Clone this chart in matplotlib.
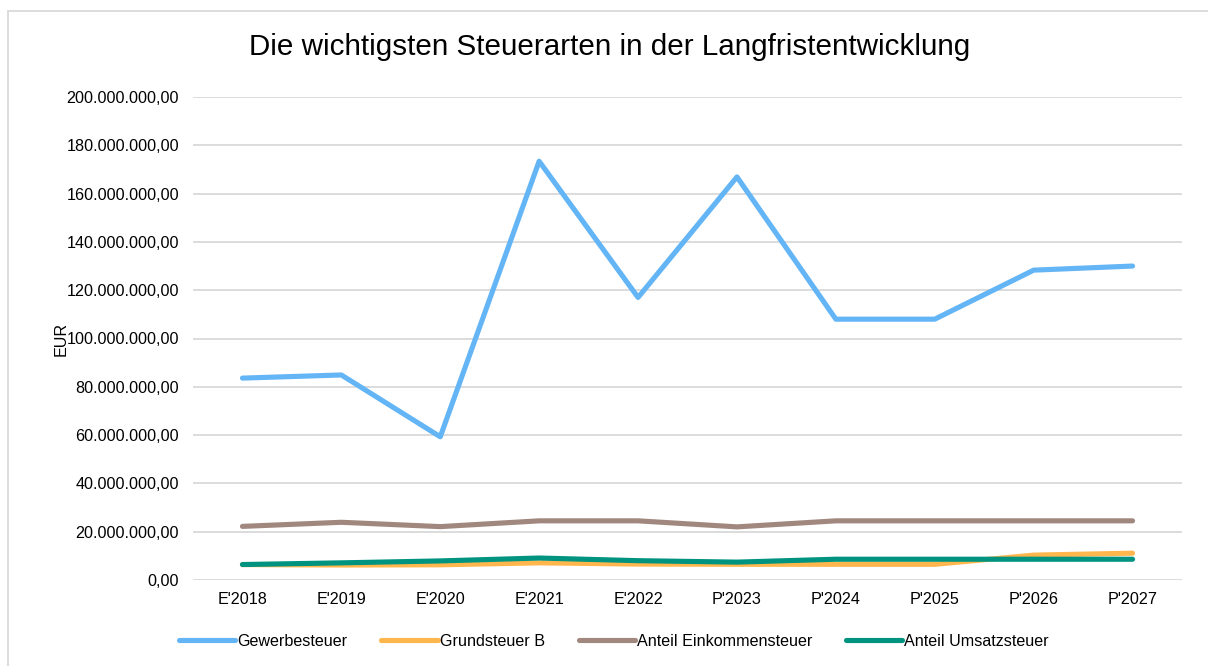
import matplotlib
matplotlib.use("Agg")
import matplotlib.pyplot as plt
from matplotlib.ticker import FuncFormatter
from matplotlib.patches import Rectangle

plt.rcParams['font.family'] = ['Liberation Sans', 'DejaVu Sans']

# data (EUR)
years = ["E'2018", "E'2019", "E'2020", "E'2021", "E'2022",
         "P'2023", "P'2024", "P'2025", "P'2026", "P'2027"]
gewerbe = [83.6e6, 84.9e6, 59.3e6, 173.4e6, 117.0e6,
           166.9e6, 108.0e6, 108.0e6, 128.3e6, 130.0e6]
grund_b = [6.4e6, 6.2e6, 6.3e6, 7.1e6, 6.6e6,
           6.5e6, 6.5e6, 6.5e6, 10.3e6, 11.1e6]
einkommen = [22.2e6, 23.9e6, 22.1e6, 24.5e6, 24.5e6,
             22.0e6, 24.5e6, 24.5e6, 24.5e6, 24.5e6]
umsatz = [6.4e6, 7.1e6, 7.9e6, 9.1e6, 8.0e6,
          7.4e6, 8.6e6, 8.6e6, 8.6e6, 8.6e6]

series = [
    ("Gewerbesteuer", gewerbe, "#64B5F6"),
    ("Grundsteuer B", grund_b, "#FFB74D"),
    ("Anteil Einkommensteuer", einkommen, "#A1887F"),
    ("Anteil Umsatzsteuer", umsatz, "#00937F"),
]

fig = plt.figure(figsize=(12.08, 6.66), dpi=100)
ax = fig.add_axes([193 / 1208, 1 - 580 / 666, 989 / 1208, 483 / 666])

x = range(len(years))
for name, vals, col in series:
    ax.plot(x, vals, color=col, lw=3.7, solid_capstyle='round',
            solid_joinstyle='round', label=name)

def fmt(v, pos):
    s = f"{v:,.2f}"
    return s.replace(",", "X").replace(".", ",").replace("X", ".")

ax.set_ylim(0, 200e6)
ax.set_yticks([i * 20e6 for i in range(11)])
ax.yaxis.set_major_formatter(FuncFormatter(fmt))
ax.set_xlim(-0.5, len(years) - 0.5)
ax.set_xticks(list(x))
ax.set_xticklabels(years)
ax.tick_params(axis='both', length=0, labelsize=11.6, colors='#000000')
ax.tick_params(axis='y', pad=10)
ax.tick_params(axis='x', pad=9)
ax.grid(axis='y', color='#D9D9D9', lw=1.3)
ax.set_axisbelow(True)
for s in ax.spines.values():
    s.set_visible(False)

ax.set_ylabel("EUR", fontsize=11.6)
ax.yaxis.set_label_coords(-124 / 989, 0.5)

fig.text(610 / 1208, 1 - 47 / 666, "Die wichtigsten Steuerarten in der Langfristentwicklung",
         ha='center', va='center', fontsize=21.3)

fig.legend(loc='center', bbox_to_anchor=(614 / 1208, 1 - 641 / 666), ncol=4,
           frameon=False, fontsize=11.6, handlelength=3.5, handletextpad=0.12,
           columnspacing=2.1)

fig.patches.append(Rectangle((8 / 1208, -0.1), 1.2, 1.1 - 11 / 666, transform=fig.transFigure,
                             fill=False, edgecolor='#D9D9D9', lw=1.3))

fig.savefig("out.png", dpi=100)
